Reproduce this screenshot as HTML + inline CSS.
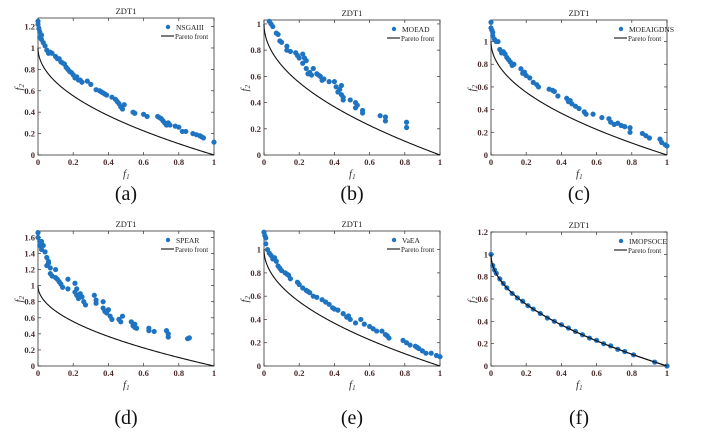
<!DOCTYPE html>
<html><head><meta charset="utf-8"><style>
html,body{margin:0;padding:0;background:#fff;}
svg{display:block;font-family:"Liberation Serif",serif;}
</style></head><body>
<svg id="fig" width="702" height="446" viewBox="0 0 702 446"></svg>
<script>
const panelNames = ["a","b","c","d","e","f"];
const algoNames = ["NSGAIII","MOEAD","MOEAIGDNS","SPEAR","VaEA","IMOPSOCE"];
const yMaxes = [1.28,1.03,1.19,1.68,1.16,1.2];
const aF1=[0,0,0.005,0.01,0.01,0.02,0.03,0.04,0.05,0.06,0.08,0.1,0.12,0.13,0.15,0.16,0.18,0.2,0.21,0.23,0.25,0.28,0.3,0.33,0.35,0.37,0.39,0.42,0.44,0.46,0.47,0.48,0.49,0.54,0.55,0.6,0.62,0.68,0.7,0.71,0.72,0.73,0.75,0.78,0.8,0.82,0.84,0.88,0.9,0.92,0.94,1.0,0.02,0.07,0.11,0.14,0.17,0.19,0.22,0.24,0.36,0.38,0.45,0.69,0.74,0.93];
const aF2=[1.25,1.22,1.18,1.15,1.1,1.08,1.05,1.02,0.98,0.95,0.95,0.92,0.9,0.87,0.85,0.82,0.78,0.75,0.72,0.7,0.68,0.69,0.66,0.61,0.6,0.58,0.56,0.54,0.52,0.48,0.45,0.43,0.47,0.4,0.39,0.38,0.36,0.36,0.34,0.32,0.3,0.28,0.28,0.27,0.26,0.22,0.22,0.2,0.19,0.18,0.16,0.12,1.12,0.96,0.9,0.86,0.8,0.77,0.73,0.7,0.59,0.57,0.5,0.35,0.3,0.17];
const bF1=[0.03,0.04,0.05,0.07,0.08,0.09,0.1,0.13,0.13,0.15,0.18,0.19,0.2,0.22,0.22,0.24,0.24,0.25,0.27,0.28,0.3,0.32,0.33,0.37,0.4,0.41,0.42,0.44,0.44,0.45,0.49,0.52,0.52,0.56,0.56,0.66,0.69,0.69,0.81,0.81,0.23,0.26,0.31,0.34,0.43,0.45,0.53];
const bF2=[1.02,1.0,0.98,0.93,0.92,0.87,0.86,0.83,0.8,0.79,0.78,0.76,0.74,0.77,0.7,0.72,0.66,0.62,0.61,0.66,0.62,0.6,0.57,0.56,0.56,0.52,0.48,0.53,0.46,0.42,0.42,0.4,0.36,0.34,0.32,0.3,0.29,0.26,0.25,0.21,0.74,0.63,0.61,0.58,0.5,0.44,0.38];
const cF1=[0,0,0.01,0.01,0.02,0.03,0.04,0.05,0.06,0.08,0.09,0.1,0.11,0.12,0.17,0.18,0.2,0.22,0.24,0.26,0.27,0.33,0.36,0.38,0.43,0.44,0.46,0.48,0.5,0.53,0.54,0.58,0.63,0.67,0.68,0.7,0.74,0.76,0.79,0.79,0.86,0.88,0.9,0.96,0.97,0.99,1.0,0.005,0.07,0.13,0.19,0.35,0.45,0.72];
const cF2=[1.17,1.12,1.08,1.05,1.02,1.0,1.0,0.93,0.9,0.89,0.86,0.84,0.82,0.79,0.76,0.72,0.7,0.68,0.64,0.62,0.6,0.58,0.56,0.52,0.5,0.47,0.45,0.43,0.41,0.38,0.36,0.36,0.33,0.32,0.29,0.27,0.26,0.25,0.24,0.2,0.19,0.17,0.15,0.14,0.11,0.09,0.08,1.1,0.91,0.8,0.73,0.57,0.48,0.28];
const dF1=[0,0,0.01,0.01,0.02,0.03,0.04,0.05,0.05,0.06,0.07,0.07,0.08,0.1,0.11,0.12,0.13,0.14,0.17,0.17,0.21,0.21,0.22,0.23,0.25,0.26,0.27,0.32,0.33,0.33,0.37,0.37,0.38,0.4,0.41,0.42,0.46,0.47,0.48,0.53,0.54,0.55,0.56,0.63,0.63,0.66,0.73,0.74,0.74,0.85,0.86,0.02,0.06,0.1,0.22,0.24,0.39,0.55];
const dF2=[1.66,1.6,1.55,1.5,1.45,1.5,1.42,1.35,1.25,1.28,1.22,1.15,1.12,1.2,1.08,1.05,1.02,0.98,1.08,0.96,1.03,0.92,0.88,0.84,0.86,0.8,0.76,0.88,0.82,0.78,0.8,0.72,0.68,0.7,0.62,0.58,0.58,0.55,0.62,0.55,0.5,0.52,0.47,0.47,0.44,0.43,0.44,0.4,0.36,0.34,0.35,1.55,1.3,1.1,0.96,0.9,0.66,0.48];
const eF1=[0,0.01,0.01,0.02,0.03,0.04,0.05,0.07,0.08,0.09,0.1,0.12,0.14,0.15,0.19,0.2,0.22,0.24,0.26,0.28,0.3,0.33,0.35,0.37,0.39,0.42,0.45,0.47,0.49,0.52,0.55,0.57,0.6,0.62,0.64,0.67,0.69,0.71,0.79,0.81,0.83,0.86,0.88,0.9,0.92,0.95,0.98,1.0,0.005,0.06,0.13,0.25,0.4,0.48,0.7,0.87];
const eF2=[1.15,1.1,1.05,1.0,0.97,0.95,0.92,0.9,0.86,0.84,0.82,0.8,0.78,0.75,0.72,0.7,0.67,0.65,0.63,0.6,0.59,0.57,0.55,0.53,0.5,0.48,0.45,0.42,0.4,0.37,0.4,0.36,0.34,0.32,0.3,0.3,0.27,0.24,0.22,0.2,0.18,0.17,0.15,0.13,0.11,0.11,0.09,0.08,1.12,0.93,0.79,0.64,0.49,0.43,0.26,0.16];
const fF1=[0,0.01,0.02,0.03,0.05,0.07,0.09,0.12,0.15,0.18,0.21,0.24,0.28,0.32,0.36,0.4,0.44,0.48,0.52,0.56,0.6,0.64,0.68,0.72,0.76,0.81,0.93,1.0];
const fF2=[1,0.9,0.86,0.83,0.78,0.74,0.7,0.65,0.61,0.58,0.54,0.51,0.47,0.43,0.4,0.37,0.34,0.31,0.28,0.25,0.23,0.2,0.18,0.15,0.13,0.1,0.035,0];
const xTicks=["0","0.2","0.4","0.6","0.8","1"];
const seriesF1=[aF1,bF1,cF1,dF1,eF1,fF1];
const seriesF2=[aF2,bF2,cF2,dF2,eF2,fF2];

const boxes=[[38,18,214,155],[264,20,440,155],[491,20,667,155],[38,231,214,366],[264,231,440,366],[491,232,667,366]];
const NS="http://www.w3.org/2000/svg";
const svg=document.getElementById('fig');
function mk(tag,attrs,parent){const e=document.createElementNS(NS,tag);for(const k in attrs)e.setAttribute(k,attrs[k]);(parent||svg).appendChild(e);return e;}
function txt(s,attrs,parent){const e=mk('text',attrs,parent);e.textContent=s;return e;}

for(let p=0;p<6;p++){
  const [L,T,R,B]=boxes[p];const ymax=yMaxes[p];
  const g=mk('g',{});
  
  
  const sx=v=>L+(R-L)*v, sy=v=>B-(B-T)*v/ymax;
  const box=mk('rect',{x:L,y:T,width:R-L,height:B-T,fill:'none',stroke:'#333','stroke-width':0.8},g);
  
  
  xTicks.forEach((lab,i)=>{const x=sx(i*0.2);
    mk('line',{x1:x,x2:x,y1:B,y2:B-3,stroke:'#333','stroke-width':0.7},g);
    mk('line',{x1:x,x2:x,y1:T,y2:T+3,stroke:'#333','stroke-width':0.7},g);
    const t=txt(lab,{x:x,y:B+10,'font-size':8.5,'font-weight':'bold','text-anchor':'middle',fill:'#4a2a2a'},g);
    
    
  });
  for(let k=0;k*0.2<=ymax+1e-9;k++){const v=k*0.2,y=sy(v);
    mk('line',{x1:L,x2:L+3,y1:y,y2:y,stroke:'#333','stroke-width':0.7},g);
    mk('line',{x1:R,x2:R-3,y1:y,y2:y,stroke:'#333','stroke-width':0.7},g);
    const lab=(Math.round(v*10)/10).toString();
    const t=txt(lab,{x:L-3,y:y+3,'font-size':8.5,'font-weight':'bold','text-anchor':'end',fill:'#4a2a2a'},g);
    
    
  }
  const ti=txt('ZDT1',{x:(L+R)/2,y:T-4,'font-size':8.5,'text-anchor':'middle',fill:'#222'},g);
  
  
  const xl=mk('text',{x:(L+R)/2-3,y:B+22,'font-size':11,'font-style':'italic',fill:'#333'},g);
  xl.innerHTML='f<tspan font-size="7" dy="2">1</tspan>';
  
  
  const yl=mk('text',{transform:`translate(${L-16},${(T+B)/2+4}) rotate(-90)`,'font-size':11,'font-style':'italic',fill:'#333'},g);
  yl.innerHTML='f<tspan font-size="7" dy="2">2</tspan>';
  
  
  let d='';for(let i=0;i<=200;i++){const x=i/200;const xx=x*x;d+=(i?'L':'M')+sx(xx).toFixed(2)+','+sy(1-Math.sqrt(xx)).toFixed(2);}
  const pf=mk('path',{d:d,fill:'none',stroke:'#111','stroke-width':1.1},g);
  
  
  const f1=seriesF1[p],f2=seriesF2[p];
  for(let i=0;i<f1.length;i++){
    const c=mk('circle',{cx:sx(f1[i]),cy:sy(f2[i]),r:2.6,fill:'#1f74c2'},g);
    
    
  }
  if(p===5){mk('path',{d:d,fill:'none',stroke:'#111','stroke-width':1.1},g);}
  const lg=mk('g',{},g);
  
  
  mk('circle',{cx:R-46,cy:T+9,r:2.2,fill:'#1f74c2'},lg);
  txt(algoNames[p],{x:R-38,y:T+12,'font-size':7.5,fill:'#222'},lg);
  mk('line',{x1:R-53,x2:R-40,y1:T+18,y2:T+18,stroke:'#111','stroke-width':1.1},lg);
  txt('Pareto front',{x:R-39,y:T+21,'font-size':7,fill:'#222'},lg);
  const cap=txt('('+panelNames[p]+')',{x:(L+R)/2,y:p<3?B+45:B+58,'font-size':20,'text-anchor':'middle',fill:'#111'},g);
  
  
}
</script>
</body></html>
